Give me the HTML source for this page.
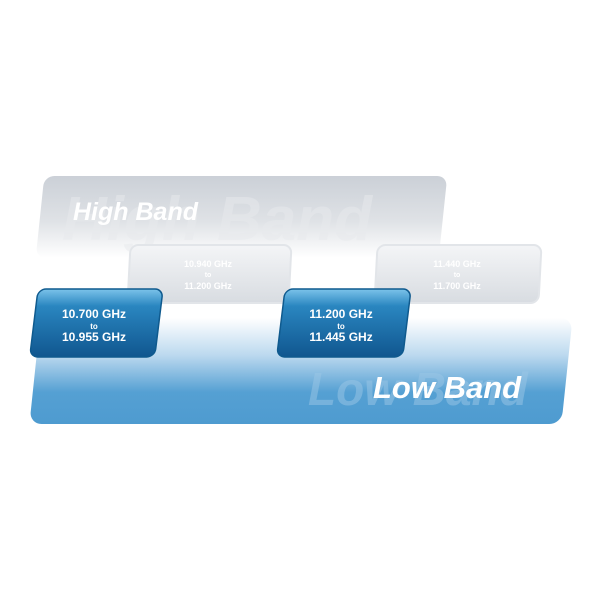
<!DOCTYPE html>
<html><head><style>body{margin:0;background:#fff}svg{display:block}</style></head><body>
<svg width="600" height="600" viewBox="0 0 600 600" xmlns="http://www.w3.org/2000/svg" font-family="Liberation Sans, sans-serif">
<defs>
<linearGradient id="hb" x1="0" y1="0" x2="0" y2="1"><stop offset="0" stop-color="#cbd0d7"/><stop offset="0.55" stop-color="#dfe2e6"/><stop offset="1" stop-color="#ffffff"/></linearGradient>
<linearGradient id="lb" x1="0" y1="0" x2="0" y2="1"><stop offset="0" stop-color="#ffffff"/><stop offset="0.35" stop-color="#bcd9ef"/><stop offset="0.7" stop-color="#55a0d3"/><stop offset="1" stop-color="#4e9bd0"/></linearGradient>
<linearGradient id="gb" x1="0" y1="0" x2="0" y2="1"><stop offset="0" stop-color="#f4f5f7"/><stop offset="1" stop-color="#d8dce1"/></linearGradient>
<linearGradient id="bb" x1="0" y1="0" x2="0" y2="1"><stop offset="0" stop-color="#7cc3ea"/><stop offset="0.25" stop-color="#2a86c0"/><stop offset="1" stop-color="#10568f"/></linearGradient>
</defs>
<g transform="translate(0,217) skewX(-6) translate(0,-217)">
<rect x="40" y="176" width="403" height="82" rx="10" fill="url(#hb)"/>
</g>
<text x="62" y="240" font-size="62" font-weight="bold" font-style="italic" fill="#e8eaed" opacity="0.5">High Band</text>
<text x="73" y="220" font-size="25" font-weight="bold" font-style="italic" fill="#fff">High Band</text>
<g transform="translate(0,274) skewX(-3) translate(0,-274)">
<rect x="129" y="245" width="161" height="58" rx="8" fill="url(#gb)" stroke="#e2e5e9" stroke-width="2"/>
<rect x="376" y="245" width="164" height="58" rx="8" fill="url(#gb)" stroke="#e2e5e9" stroke-width="2"/>
</g>
<g fill="#fff" font-weight="bold" text-anchor="middle">
<text x="208" y="267" font-size="9">10.940 GHz</text><text x="208" y="277" font-size="7">to</text><text x="208" y="289" font-size="9">11.200 GHz</text>
<text x="457" y="267" font-size="9">11.440 GHz</text><text x="457" y="277" font-size="7">to</text><text x="457" y="289" font-size="9">11.700 GHz</text>
</g>
<g transform="translate(0,371) skewX(-6) translate(0,-371)">
<rect x="35" y="318" width="532" height="106" rx="12" fill="url(#lb)"/>
</g>
<text x="308" y="405" font-size="46" font-weight="bold" font-style="italic" fill="#9cc7e6" opacity="0.5">Low Band</text>
<text x="373" y="398" font-size="31" font-weight="bold" font-style="italic" fill="#fff">Low Band</text>
<g transform="translate(0,322) skewX(-7) translate(0,-322)">
<rect x="34" y="289" width="125" height="68" rx="8" fill="url(#bb)" stroke="#0f5a8e" stroke-width="1.5"/>
<rect x="281" y="289" width="126" height="68" rx="8" fill="url(#bb)" stroke="#0f5a8e" stroke-width="1.5"/>
</g>
<g fill="#fff" font-weight="bold" text-anchor="middle">
<text x="94" y="318" font-size="12">10.700 GHz</text><text x="94" y="329" font-size="8">to</text><text x="94" y="341" font-size="12">10.955 GHz</text>
<text x="341" y="318" font-size="12">11.200 GHz</text><text x="341" y="329" font-size="8">to</text><text x="341" y="341" font-size="12">11.445 GHz</text>
</g>
</svg>
</body></html>
